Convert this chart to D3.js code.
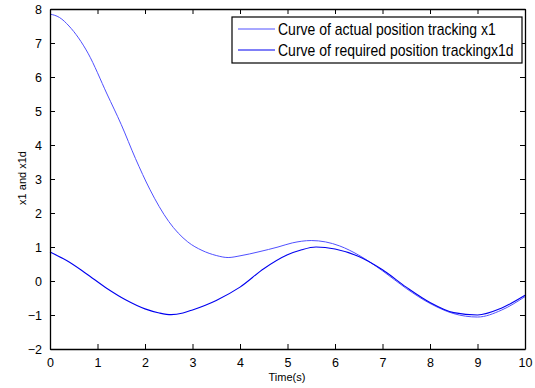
<!DOCTYPE html>
<html>
<head>
<meta charset="utf-8">
<script src="https://cdn.jsdelivr.net/npm/d3@7"></script>
<style>
  body { margin: 0; background: #fff; }
  svg { display: block; font-family: Arial, 'Liberation Sans', sans-serif; }
</style>
</head>
<body>
<div id="chart"></div>
<script>
// x1: actual position tracking
const actualTime = [0, 0.2, 0.4, 0.8, 1.2, 1.5, 1.8, 2.1, 2.5, 2.9, 3.2, 3.5, 3.75, 4.0, 4.4, 4.8, 5.1, 5.5, 5.8, 6.1, 6.5, 7.0, 7.5, 8.0, 8.5, 9.0, 9.5, 10];
const actualValues = [7.85, 7.75, 7.5, 6.7, 5.5, 4.6, 3.6, 2.7, 1.75, 1.15, 0.9, 0.75, 0.69, 0.74, 0.86, 1.0, 1.12, 1.19, 1.15, 1.03, 0.76, 0.3, -0.22, -0.66, -0.96, -1.06, -0.86, -0.46];

// x1d: required position tracking
const requiredTime = [0, 0.35, 0.75, 1.2, 1.6, 2.0, 2.3, 2.55, 2.8, 3.0, 3.5, 4.0, 4.5, 5.0, 5.3, 5.6, 6.0, 6.5, 7.0, 7.5, 8.0, 8.5, 9.0, 9.5, 10];
const requiredValues = [0.85, 0.6, 0.23, -0.22, -0.56, -0.82, -0.94, -0.99, -0.94, -0.85, -0.57, -0.18, 0.36, 0.77, 0.92, 1.0, 0.94, 0.72, 0.33, -0.18, -0.63, -0.93, -1.0, -0.8, -0.42];

const xTicks = [0, 1, 2, 3, 4, 5, 6, 7, 8, 9, 10];
const yTicks = [-2, -1, 0, 1, 2, 3, 4, 5, 6, 7, 8];
const legendLabels = ['Curve of actual position tracking x1', 'Curve of required position trackingx1d'];
const colors = ['#5050ff', '#0000f0'];

const width = 535, height = 388;
const margin = { top: 9, right: 10, bottom: 39, left: 50 };
const innerW = width - margin.left - margin.right;
const innerH = height - margin.top - margin.bottom;

const svg = d3.select('#chart').append('svg')
  .attr('width', width)
  .attr('height', height);

const g = svg.append('g').attr('transform', `translate(${margin.left},${margin.top})`);

const x = d3.scaleLinear().domain([0, 10]).range([0, innerW]);
const y = d3.scaleLinear().domain([-2, 8]).range([innerH, 0]);

const line = d3.line()
  .curve(d3.curveMonotoneX)
  .x(d => x(d[0]))
  .y(d => y(d[1]));

const series = [
  { name: legendLabels[0], values: actualTime.map((t, i) => [t, actualValues[i]]), color: colors[0], w: 1 },
  { name: legendLabels[1], values: requiredTime.map((t, i) => [t, requiredValues[i]]), color: colors[1], w: 1.1 },
];

g.selectAll('.series')
  .data(series)
  .enter()
  .append('path')
  .attr('class', 'series')
  .attr('d', d => line(d.values))
  .attr('fill', 'none')
  .attr('stroke', d => d.color)
  .attr('stroke-width', d => d.w);

// axes, MATLAB style: ticks pointing inward on all four sides
const styleAxis = sel => {
  sel.select('.domain').attr('stroke', '#000').attr('stroke-width', 1.3);
  sel.selectAll('.tick line').attr('stroke', '#000');
  sel.selectAll('.tick text').attr('fill', '#000').style('font-size', '12.5px');
};

g.append('g')
  .attr('transform', `translate(0,${innerH})`)
  .call(d3.axisBottom(x).tickValues(xTicks).tickSize(-5).tickPadding(9).tickSizeOuter(0))
  .call(styleAxis);

g.append('g')
  .call(d3.axisTop(x).tickValues(xTicks).tickSize(-5).tickFormat('').tickSizeOuter(0))
  .call(styleAxis);

g.append('g')
  .call(d3.axisLeft(y).tickValues(yTicks).tickSize(-5).tickPadding(8).tickSizeOuter(0))
  .call(styleAxis);

g.append('g')
  .attr('transform', `translate(${innerW},0)`)
  .call(d3.axisRight(y).tickValues(yTicks).tickSize(-5).tickFormat('').tickSizeOuter(0))
  .call(styleAxis);

// axis labels
svg.append('text')
  .attr('x', 287)
  .attr('y', 381)
  .attr('text-anchor', 'middle')
  .style('font-size', '11px')
  .text('Time(s)');

svg.append('text')
  .attr('transform', 'translate(26,178) rotate(-90)')
  .attr('text-anchor', 'middle')
  .style('font-size', '11px')
  .text('x1 and x1d');

// legend
const legend = svg.append('g').attr('transform', 'translate(232,17)');
legend.append('rect')
  .attr('width', 290)
  .attr('height', 46)
  .attr('fill', '#fff')
  .attr('stroke', '#000')
  .attr('stroke-width', 1.2);

const items = legend.selectAll('.item')
  .data(series)
  .enter()
  .append('g')
  .attr('class', 'item')
  .attr('transform', (d, i) => `translate(0,${12 + i * 21})`);

items.append('line')
  .attr('x1', 6).attr('x2', 43)
  .attr('stroke', d => d.color)
  .attr('stroke-width', 1);

items.append('text')
  .attr('x', 46)
  .attr('dy', '0.36em')
  .attr('transform', 'scale(1,1.15)')
  .style('font-size', '14px')
  .text(d => d.name);
</script>
</body>
</html>
